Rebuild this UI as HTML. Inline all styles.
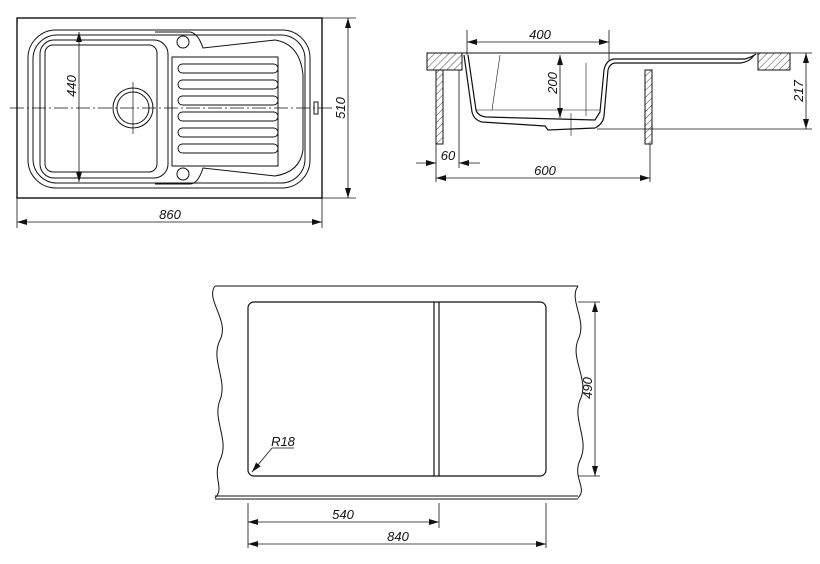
<!DOCTYPE html>
<html><head><style>body{margin:0;background:#fff}svg{display:block}text{font-family:"Liberation Sans",sans-serif;font-style:italic;font-size:13px;fill:#111}</style></head>
<body>
<svg width="820" height="564" viewBox="0 0 820 564" xmlns="http://www.w3.org/2000/svg">
<defs>
<marker id="a" viewBox="0 0 10 6" refX="10" refY="3" markerWidth="10" markerHeight="6" orient="auto-start-reverse" markerUnits="userSpaceOnUse"><path d="M0,0L10,3L0,6z" fill="#111"/></marker>
<pattern id="h" width="5" height="5" patternUnits="userSpaceOnUse" patternTransform="rotate(45)"><line x1="0" y1="0" x2="0" y2="5" stroke="#111" stroke-width="0.8"/></pattern>
</defs>
<g fill="none" stroke="#111" stroke-width="1">
<!-- TOP LEFT PLAN -->
<rect x="17" y="18" width="305" height="180" stroke-width="1.4"/>
<rect x="28" y="30" width="282" height="158" rx="28"/>
<rect x="33" y="35" width="272" height="148" rx="24"/>
<rect x="40" y="40" width="128" height="138" rx="14"/>
<rect x="45" y="45" width="112" height="127" rx="8"/>
<path d="M155,32 L190,32 Q198,33 203,48 L275,40 Q300,44 303,75 L303,150 Q300,172 275,176 L203,168 Q198,184 190,184 L155,184"/>
<rect x="172" y="57" width="106" height="109"/>
<circle cx="183" cy="42" r="6"/><circle cx="183" cy="174" r="6"/>
<g>
<rect x="178" y="64" width="100" height="9" rx="4.5"/>
<rect x="178" y="80" width="100" height="9" rx="4.5"/>
<rect x="178" y="96" width="100" height="9" rx="4.5"/>
<rect x="178" y="112" width="100" height="9" rx="4.5"/>
<rect x="178" y="128" width="100" height="9" rx="4.5"/>
<rect x="178" y="144" width="100" height="9" rx="4.5"/>
</g>
<circle cx="133" cy="108" r="20"/><circle cx="133" cy="108" r="16"/>
<line x1="133" y1="82" x2="133" y2="134" stroke-width="0.7"/>
<rect x="314" y="102" width="4" height="12"/>
<line x1="10" y1="108" x2="332" y2="108" stroke-width="0.7" stroke-dasharray="14,3,2,3"/>
<line x1="79" y1="32" x2="79" y2="182" marker-start="url(#a)" marker-end="url(#a)" stroke-width="0.8"/>
<line x1="322" y1="18" x2="356" y2="18" stroke-width="0.8"/><line x1="322" y1="198" x2="356" y2="198" stroke-width="0.8"/>
<line x1="348" y1="18" x2="348" y2="198" marker-start="url(#a)" marker-end="url(#a)" stroke-width="0.8"/>
<line x1="17" y1="198" x2="17" y2="228" stroke-width="0.8"/><line x1="322" y1="198" x2="322" y2="228" stroke-width="0.8"/>
<line x1="17" y1="222" x2="322" y2="222" marker-start="url(#a)" marker-end="url(#a)" stroke-width="0.8"/>

<!-- TOP RIGHT SECTION -->
<rect x="427" y="53" width="35" height="17" fill="url(#h)"/>
<rect x="758" y="53" width="32" height="17" fill="url(#h)"/>
<rect x="436" y="70" width="7" height="74" fill="url(#h)"/>
<rect x="645" y="70" width="7" height="74" fill="url(#h)"/>
<line x1="455" y1="53" x2="760" y2="53"/>
<path d="M464,55 L472,112 Q474,120 482,122 L545,126 L548,130 L595,128 Q603,124 604,116 L608,70 Q610,63 616,63 L740,63 Q750,62 754,55" stroke-width="1.2"/>
<path d="M468,55 L476,110 Q478,116 486,117 L595,120 L600,112 L604,70 Q606,60 614,59 L745,59 Q752,57 756,54" stroke-width="1.2"/>
<line x1="476" y1="110" x2="600" y2="110" stroke-width="0.6"/>
<line x1="500" y1="55" x2="492" y2="110" stroke-width="0.6"/>
<line x1="586" y1="63" x2="586" y2="116" stroke-width="0.6"/>
<line x1="571" y1="113" x2="571" y2="136" stroke-width="0.6"/>
<line x1="597" y1="129" x2="812" y2="129" stroke-width="0.8"/>
<line x1="790" y1="53" x2="812" y2="53" stroke-width="0.8"/>
<line x1="806" y1="53" x2="806" y2="129" marker-start="url(#a)" marker-end="url(#a)" stroke-width="0.8"/>
<line x1="467" y1="30" x2="467" y2="55" stroke-width="0.8"/><line x1="609" y1="30" x2="609" y2="60" stroke-width="0.8"/>
<line x1="467" y1="42" x2="609" y2="42" marker-start="url(#a)" marker-end="url(#a)" stroke-width="0.8"/>
<line x1="560" y1="55" x2="560" y2="118" marker-start="url(#a)" marker-end="url(#a)" stroke-width="0.8"/>
<line x1="436" y1="144" x2="436" y2="182" stroke-width="0.8"/>
<line x1="459" y1="70" x2="459" y2="168" stroke-width="0.8"/>
<line x1="650" y1="144" x2="650" y2="182" stroke-width="0.8"/>
<line x1="416" y1="163" x2="436" y2="163" marker-end="url(#a)" stroke-width="0.8"/>
<line x1="480" y1="163" x2="459" y2="163" marker-end="url(#a)" stroke-width="0.8"/>
<line x1="436" y1="178" x2="650" y2="178" marker-start="url(#a)" marker-end="url(#a)" stroke-width="0.8"/>

<!-- BOTTOM -->
<path d="M215,286 C205,300 230,320 220,340 C210,360 228,380 220,400 C212,420 230,440 220,460 C212,478 225,488 215,498" />
<path d="M578,286 C568,300 588,320 578,340 C570,360 590,380 580,400 C572,420 590,440 580,460 C572,478 588,488 578,498"/>
<line x1="215" y1="286" x2="578" y2="286"/>
<line x1="215" y1="496" x2="578" y2="496"/><line x1="215" y1="499" x2="578" y2="499"/>
<rect x="248" y="302" width="298" height="174" rx="6" stroke-width="1.2"/>
<line x1="434" y1="302" x2="434" y2="476" stroke-width="1.2"/><line x1="439" y1="302" x2="439" y2="476" stroke-width="1.2"/>
<line x1="578" y1="302" x2="600" y2="302" stroke-width="0.8"/><line x1="578" y1="476" x2="600" y2="476" stroke-width="0.8"/>
<line x1="595" y1="302" x2="595" y2="476" marker-start="url(#a)" marker-end="url(#a)" stroke-width="0.8"/>
<line x1="248" y1="503" x2="248" y2="548" stroke-width="0.8"/>
<line x1="439" y1="503" x2="439" y2="528" stroke-width="0.8"/>
<line x1="546" y1="503" x2="546" y2="548" stroke-width="0.8"/>
<line x1="248" y1="522" x2="439" y2="522" marker-start="url(#a)" marker-end="url(#a)" stroke-width="0.8"/>
<line x1="248" y1="544" x2="546" y2="544" marker-start="url(#a)" marker-end="url(#a)" stroke-width="0.8"/>
<line x1="272" y1="448" x2="294" y2="448" stroke-width="0.8"/>
<line x1="272" y1="448" x2="252" y2="472" marker-end="url(#a)" stroke-width="0.8"/>
</g>
<text x="170" y="219" text-anchor="middle">860</text>
<text transform="translate(345,108) rotate(-90)" text-anchor="middle">510</text>
<text transform="translate(76,86) rotate(-90)" text-anchor="middle">440</text>
<text x="540" y="39" text-anchor="middle">400</text>
<text transform="translate(557,83) rotate(-90)" text-anchor="middle">200</text>
<text transform="translate(803,91) rotate(-90)" text-anchor="middle">217</text>
<text x="448" y="160" text-anchor="middle">60</text>
<text x="545" y="175" text-anchor="middle">600</text>
<text transform="translate(592,388) rotate(-90)" text-anchor="middle">490</text>
<text x="343" y="519" text-anchor="middle">540</text>
<text x="398" y="541" text-anchor="middle">840</text>
<text x="283" y="446" text-anchor="middle">R18</text>
</svg>
</body></html>
